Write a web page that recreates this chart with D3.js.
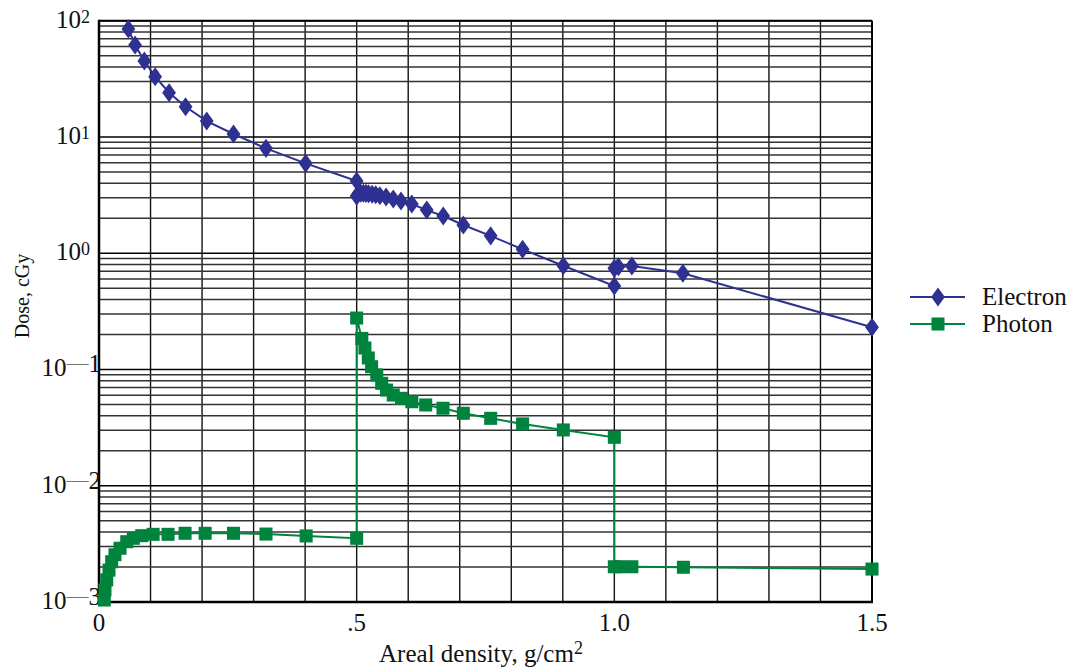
<!DOCTYPE html>
<html>
<head>
<meta charset="utf-8">
<script src="https://cdn.jsdelivr.net/npm/d3@7"></script>
<style>
  body { margin: 0; background: #fff; }
  text { font-family: "Liberation Serif", "Times New Roman", serif; fill: #111; }
</style>
</head>
<body>
<svg id="chart" width="1073" height="672"></svg>
<script>
// areal density (g/cm2) and dose (cGy)
const electronDensity = [0.057, 0.070, 0.088, 0.109, 0.136, 0.168, 0.209, 0.261, 0.324, 0.401, 0.5,
  0.5, 0.503, 0.508, 0.513, 0.518, 0.523, 0.530, 0.537, 0.545, 0.557, 0.571, 0.586, 0.607, 0.636,
  0.668, 0.707, 0.760, 0.822, 0.901, 1.0, 1.0, 1.008, 1.034, 1.133, 1.5];
const electronDose = [84.8, 61.8, 45, 33, 24, 18.2, 13.7, 10.6, 7.98, 5.93, 4.18,
  3.1, 3.25, 3.28, 3.28, 3.27, 3.25, 3.22, 3.18, 3.12, 3.04, 2.93, 2.81, 2.65, 2.35,
  2.09, 1.75, 1.41, 1.08, 0.78, 0.522, 0.741, 0.765, 0.776, 0.672, 0.2305];

const photonDensity = [0.0103, 0.0116, 0.015, 0.0194, 0.0246, 0.031, 0.0408, 0.0538, 0.0666, 0.0829,
  0.105, 0.134, 0.167, 0.206, 0.261, 0.324, 0.402, 0.5,
  0.5, 0.51, 0.516, 0.5226, 0.529, 0.539, 0.5486, 0.558, 0.571, 0.587, 0.607, 0.634, 0.6675,
  0.707, 0.760, 0.822, 0.901, 1.0, 1.0, 1.01, 1.034, 1.134, 1.5];
const photonDose = [0.00104, 0.00127, 0.00155, 0.00188, 0.00222, 0.00255, 0.0029, 0.0033, 0.00353, 0.00372,
  0.00382, 0.00382, 0.0039, 0.0039, 0.0039, 0.00384, 0.0037, 0.00353,
  0.277, 0.185, 0.153, 0.1256, 0.1056, 0.0896, 0.076, 0.0665, 0.0603, 0.0565, 0.0528, 0.0495, 0.0464,
  0.042, 0.038, 0.034, 0.0302, 0.0261, 0.00201, 0.00201, 0.00201, 0.00199, 0.00192];

const xTicks = [0, 0.5, 1.0, 1.5];
const xTickLabels = ["0", ".5", "1.0", "1.5"];
const yExponents = [2, 1, 0, -1, -2, -3];
const seriesNames = ["Electron", "Photon"];
const seriesColors = ["#2e3192", "#00843d"];

const svg = d3.select("#chart");
const x = d3.scaleLinear().domain([0, 1.5]).range([99, 872]);
const y = d3.scaleLog().domain([1e-3, 1e2]).range([602, 20.7]);

// grid: every 0.1 across, every log step up
const vGrid = d3.range(0, 16).map(i => i / 10);
let hGrid = [];
for (let e = -3; e < 2; e++) {
  for (let m = 1; m < 10; m++) hGrid.push(m * Math.pow(10, e));
}
hGrid.push(100);

const grid = svg.append("g");
grid.selectAll(".vg").data(vGrid).enter().append("line")
  .attr("x1", d => x(d)).attr("x2", d => x(d))
  .attr("y1", y(1e2)).attr("y2", y(1e-3))
  .attr("stroke", "#111").attr("stroke-width", 1.4);
grid.selectAll(".hg").data(hGrid).enter().append("line")
  .attr("x1", x(0)).attr("x2", x(1.5))
  .attr("y1", d => y(d)).attr("y2", d => y(d))
  .attr("stroke", d => Math.abs(Math.log10(d) - Math.round(Math.log10(d))) < 1e-9 ? "#000" : "#333")
  .attr("stroke-width", 1.5);

// frame
svg.append("line").attr("x1", x(0)).attr("x2", x(0)).attr("y1", y(1e2) - 1).attr("y2", y(1e-3) + 1.5)
  .attr("stroke", "#000").attr("stroke-width", 2.5);
svg.append("line").attr("x1", x(0)).attr("x2", x(1.5) + 1).attr("y1", y(1e-3)).attr("y2", y(1e-3))
  .attr("stroke", "#000").attr("stroke-width", 2.5);
svg.append("line").attr("x1", x(0)).attr("x2", x(1.5)).attr("y1", y(1e2)).attr("y2", y(1e2))
  .attr("stroke", "#000").attr("stroke-width", 2);
svg.append("line").attr("x1", x(1.5)).attr("x2", x(1.5)).attr("y1", y(1e2)).attr("y2", y(1e-3))
  .attr("stroke", "#000").attr("stroke-width", 2);

// x tick labels
svg.selectAll(".xl").data(xTicks).enter().append("text")
  .attr("x", d => x(d)).attr("y", 631)
  .attr("text-anchor", "middle").attr("font-size", 25)
  .text((d, i) => xTickLabels[i]);

// y tick labels
yExponents.forEach(e => {
  const t = svg.append("text").attr("font-size", 25).attr("y", y(Math.pow(10, e)) + 7);
  if (e >= 0) {
    t.attr("x", 90).attr("text-anchor", "end");
    t.append("tspan").text("10");
    t.append("tspan").attr("dy", -5).attr("font-size", 18).text(e);
  } else {
    t.attr("x", 101).attr("text-anchor", "end");
    t.append("tspan").text("10");
    t.append("tspan").attr("dy", -6).attr("font-size", 22).style("fill", "#777").text("\u2014");
    t.append("tspan").attr("dy", 2).text(-e);
  }
});

// axis titles
const xt = svg.append("text").attr("x", 481).attr("y", 662)
  .attr("text-anchor", "middle").attr("font-size", 25);
xt.append("tspan").text("Areal density, g/cm");
xt.append("tspan").attr("dy", -8).attr("font-size", 18).text("2");

svg.append("text").attr("transform", "translate(29,296) rotate(-90)")
  .attr("text-anchor", "middle").attr("font-size", 20).text("Dose, cGy");

// series
const series = [
  { xs: electronDensity, ys: electronDose, shape: d3.symbolDiamond, size: 105 },
  { xs: photonDensity, ys: photonDose, shape: d3.symbolSquare, size: 170 }
];
const line = d3.line().x(d => x(d[0])).y(d => y(d[1]));

series.forEach((s, k) => {
  const pts = s.xs.map((v, i) => [v, s.ys[i]]);
  svg.append("path").datum(pts).attr("d", line)
    .attr("fill", "none").attr("stroke", seriesColors[k]).attr("stroke-width", 2);
  const sym = d3.symbol().type(s.shape).size(s.size);
  svg.selectAll(".m" + k).data(pts).enter().append("path")
    .attr("d", sym)
    .attr("transform", d => `translate(${x(d[0])},${y(d[1])})` + (k === 0 ? " scale(1.25,1)" : ""))
    .attr("fill", seriesColors[k]);
});

// legend
const legend = svg.append("g");
seriesNames.forEach((name, k) => {
  const ly = 297 + k * 27;
  legend.append("line").attr("x1", 910).attr("x2", 965).attr("y1", ly).attr("y2", ly)
    .attr("stroke", seriesColors[k]).attr("stroke-width", 2);
  legend.append("path")
    .attr("d", d3.symbol().type(series[k].shape).size(series[k].size)())
    .attr("transform", `translate(938,${ly})` + (k === 0 ? " scale(1.25,1)" : ""))
    .attr("fill", seriesColors[k]);
  legend.append("text").attr("x", 982).attr("y", ly + 7.5).attr("font-size", 25).text(name);
});
</script>
</body>
</html>
